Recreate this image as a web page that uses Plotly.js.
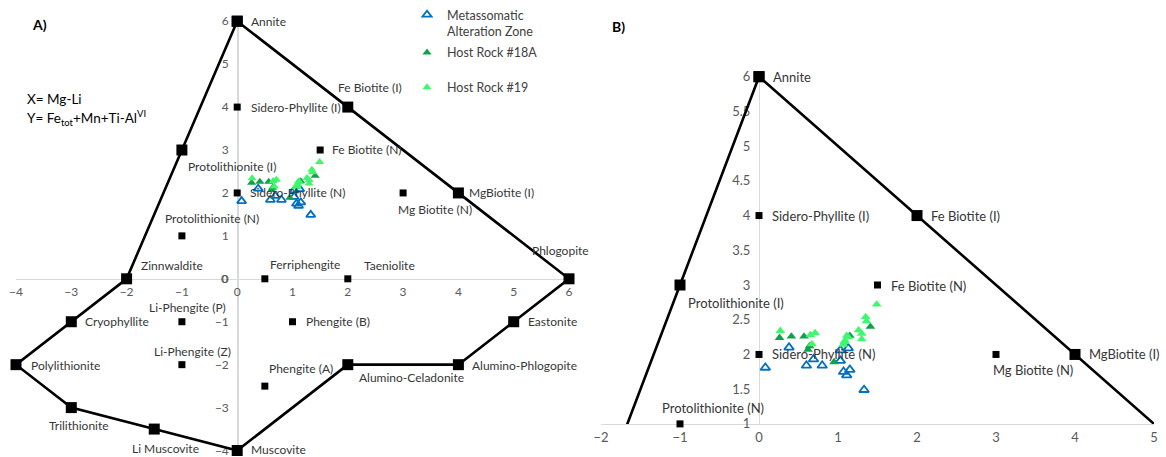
<!DOCTYPE html>
<html><head><meta charset="utf-8">
<script src="https://cdn.plot.ly/plotly-3.0.1.min.js"></script>
<style>html,body{margin:0;padding:0;background:#fff;} #chart{width:1166px;height:457px;}</style>
</head><body><div id="chart"></div>
<script>
// ---- data ----
const outlineNames = ['Annite','Fe Biotite (I)','MgBiotite (I)','Phlogopite','Eastonite','Alumino-Phlogopite','Alumino-Celadonite','Muscovite','Li Muscovite','Trilithionite','Polylithionite','Cryophyllite','Zinnwaldite','Protolithionite (I)','Annite'];
const outlineX = [0, 2, 4, 6, 5, 4, 2, 0, -1.5, -3, -4, -3, -2, -1, 0];
const outlineY = [6, 4, 2, 0, -1, -2, -2, -4, -3.5, -3, -2, -1, 0, 3, 6];

const innerNames = ['Sidero-Phyllite (I)','Fe Biotite (N)','Sidero-Phyllite (N)','Mg Biotite (N)','Protolithionite (N)','Ferriphengite','Taeniolite','Li-Phengite (P)','Phengite (B)','Li-Phengite (Z)','Phengite (A)'];
const innerX = [0, 1.5, 0, 3, -1, 0.5, 2, -1, 1, -1, 0.5];
const innerY = [4, 3, 2, 2, 1, 0, 0, -1, -1, -2, -2.5];

const altX = [0.08, 0.38, 0.60, 0.69, 0.80, 1.03, 1.03, 1.13, 1.07, 1.11, 1.15, 1.33];
const altY = [1.81, 2.10, 1.84, 1.93, 1.84, 1.91, 2.06, 2.09, 1.75, 1.70, 1.78, 1.49];
const host18X = [0.26, 0.41, 0.57, 0.64, 0.62, 0.95, 1.15, 1.41];
const host18Y = [2.24, 2.26, 2.26, 2.12, 2.07, 1.89, 2.27, 2.40];
const host19X = [0.27, 0.65, 0.71, 0.67, 1.07, 1.09, 1.11, 1.13, 1.26, 1.30, 1.30, 1.35, 1.36, 1.49, 1.08];
const host19Y = [2.34, 2.28, 2.31, 2.15, 2.14, 2.20, 2.27, 2.25, 2.35, 2.30, 2.22, 2.54, 2.48, 2.72, 2.18];

const seriesNames = ['Metassomatic<br>Alteration Zone', 'Host Rock #18A', 'Host Rock #19'];

const xTicksA = [-4, -3, -2, -1, 0, 1, 2, 3, 4, 5, 6];
const yTicksA = [-4, -3, -2, -1, 0, 1, 2, 3, 4, 5, 6];
const xTicksB = [-2, -1, 0, 1, 2, 3, 4, 5];
const yTicksB = [1, 1.5, 2, 2.5, 3, 3.5, 4, 4.5, 5, 5.5, 6];

// ---- layout / style ----
const W = 1166, H = 457;
const FONT = 'Lato, "Open Sans", sans-serif';
const LABEL_COLOR = '#363636';
const TICK_COLOR = '#595959';
const rangeA = {x: [-4, 6], y: [-4, 6]};
const rangeB = {x: [-2, 5], y: [1, 6]};
const domA = {x: [16 / W, 569 / W], y: [(H - 450.5) / H, (H - 19.3) / H]};
const domB = {x: [601 / W, 1154 / W], y: [(H - 423.75) / H, (H - 75) / H]};
function posOf(dom, r, v) { return dom[0] + (v - r[0]) / (r[1] - r[0]) * (dom[1] - dom[0]); }

// label offsets [dx, dy] in px (dy positive = down), text left-anchored
const labelA = {
  'Annite': [12, 0], 'Fe Biotite (I)': [-12, -20], 'MgBiotite (I)': [9, 0], 'Phlogopite': [-39, -28],
  'Eastonite': [12, 0], 'Alumino-Phlogopite': [12, 1], 'Alumino-Celadonite': [9, 13], 'Muscovite': [12, -1],
  'Li Muscovite': [-24, 19], 'Trilithionite': [-24, 18], 'Polylithionite': [13, 1], 'Cryophyllite': [12, 0],
  'Zinnwaldite': [12, -13], 'Protolithionite (I)': [4, 16],
  'Sidero-Phyllite (I)': [12, 0], 'Fe Biotite (N)': [10, -1], 'Sidero-Phyllite (N)': [11, 0],
  'Mg Biotite (N)': [-7, 17], 'Protolithionite (N)': [-19, -17], 'Ferriphengite': [3, -14],
  'Taeniolite': [14, -13], 'Li-Phengite (P)': [-35, -14], 'Phengite (B)': [11, 0],
  'Li-Phengite (Z)': [-30, -13], 'Phengite (A)': [2, -18]
};
const labelB = {
  'Annite': [12, 0], 'Sidero-Phyllite (I)': [11, 0], 'Fe Biotite (I)': [12, 0], 'Fe Biotite (N)': [11, 1],
  'MgBiotite (I)': [12, 0], 'Mg Biotite (N)': [-5, 16], 'Protolithionite (I)': [6, 18],
  'Sidero-Phyllite (N)': [11, 0], 'Protolithionite (N)': [-20, -16]
};

const seriesStyle = [
  {symbol: 'triangle-up-open', color: '#0070C0', line: {width: 1.8, color: '#0070C0'}},
  {symbol: 'triangle-up', color: '#10A24A', line: {width: 0}},
  {symbol: 'triangle-up', color: '#3DF86A', line: {width: 0}}
];
const seriesX = [altX, host18X, host19X];
const seriesY = [altY, host18Y, host19Y];

function inRange(x, y, r) { return x >= r.x[0] && x <= r.x[1] && y >= r.y[0] && y <= r.y[1]; }
function filt(names, xs, ys, r) {
  const o = {n: [], x: [], y: []};
  names.forEach((n, i) => { if (inRange(xs[i], ys[i], r)) { o.n.push(n); o.x.push(xs[i]); o.y.push(ys[i]); } });
  return o;
}

const traces = [];
// Panel A
traces.push({x: outlineX, y: outlineY, xaxis: 'x', yaxis: 'y', mode: 'lines+markers', cliponaxis: false,
  line: {color: '#000', width: 2.6}, marker: {symbol: 'square', size: 11, color: '#000'}, showlegend: false, hoverinfo: 'skip'});
traces.push({x: innerX, y: innerY, xaxis: 'x', yaxis: 'y', mode: 'markers', cliponaxis: false,
  marker: {symbol: 'square', size: 7, color: '#000'}, showlegend: false, hoverinfo: 'skip'});
// Panel B
traces.push({x: outlineX, y: outlineY, xaxis: 'x2', yaxis: 'y2', mode: 'lines', cliponaxis: true,
  line: {color: '#000', width: 2.6}, showlegend: false, hoverinfo: 'skip'});
const oB = filt(outlineNames, outlineX, outlineY, rangeB);
const iB = filt(innerNames, innerX, innerY, rangeB);
traces.push({x: oB.x, y: oB.y, xaxis: 'x2', yaxis: 'y2', mode: 'markers', cliponaxis: false,
  marker: {symbol: 'square', size: 11, color: '#000'}, showlegend: false, hoverinfo: 'skip'});
traces.push({x: iB.x, y: iB.y, xaxis: 'x2', yaxis: 'y2', mode: 'markers', cliponaxis: false,
  marker: {symbol: 'square', size: 7, color: '#000'}, showlegend: false, hoverinfo: 'skip'});

const legendIds = ['legend', 'legend2', 'legend3'];
seriesNames.forEach((nm, i) => {
  const st = seriesStyle[i];
  traces.push({x: seriesX[i], y: seriesY[i], xaxis: 'x', yaxis: 'y', mode: 'markers', name: nm,
    legend: legendIds[i], cliponaxis: false,
    marker: {symbol: st.symbol, size: 8, color: st.color, line: st.line}, hoverinfo: 'skip'});
});
seriesNames.forEach((nm, i) => {
  const st = seriesStyle[i];
  traces.push({x: seriesX[i], y: seriesY[i], xaxis: 'x2', yaxis: 'y2', mode: 'markers', name: nm,
    showlegend: false, cliponaxis: false,
    marker: {symbol: st.symbol, size: 8.5, color: st.color, line: st.line}, hoverinfo: 'skip'});
});

const annotations = [];
function addLabels(names, xs, ys, map, xref, yref, size) {
  names.forEach((n, i) => {
    if (!(n in map)) return;
    if (annotations.some(a => a.text === n && a.xref === xref)) return;
    const o = map[n];
    annotations.push({x: xs[i], y: ys[i], xref: xref, yref: yref, text: n, showarrow: false,
      xanchor: 'left', yanchor: 'middle', xshift: o[0], yshift: -o[1],
      font: {family: FONT, size: size, color: LABEL_COLOR}});
  });
}
addLabels(outlineNames, outlineX, outlineY, labelA, 'x', 'y', 12);
addLabels(innerNames, innerX, innerY, labelA, 'x', 'y', 12);
addLabels(oB.n, oB.x, oB.y, labelB, 'x2', 'y2', 13);
addLabels(iB.n, iB.x, iB.y, labelB, 'x2', 'y2', 13);

// Plotly hides the y tick label where the two free axes cross; draw it as a tick-style label
annotations.push({x: 0, y: 0, xref: 'x', yref: 'y', text: String(yTicksA[4]), showarrow: false,
  xanchor: 'right', yanchor: 'middle', xshift: -7, yshift: 0,
  font: {family: FONT, size: 12, color: TICK_COLOR}});

function paperText(text, px, py, size, bold) {
  annotations.push({xref: 'paper', yref: 'paper', x: px / W, y: 1 - py / H, text: bold ? '<b>' + text + '</b>' : text,
    showarrow: false, xanchor: 'left', yanchor: 'middle', font: {family: FONT, size: size, color: '#000'}});
}
paperText('A)', 30, 23, 14, true);
paperText('B)', 610, 25, 14, true);
paperText('X= Mg-Li', 25, 97, 13.5, false);
paperText('Y= Fe<sub>tot</sub>+Mn+Ti-Al<sup>VI</sup>', 25, 117, 13.5, false);

function axisBase(extra) {
  return Object.assign({showgrid: false, zeroline: false, showline: true, linecolor: '#d9d9d9', linewidth: 1.3,
    ticks: '', tickmode: 'array', fixedrange: true, layer: 'below traces', ticklabeloverflow: 'allow',
    tickfont: {family: FONT, size: 12, color: TICK_COLOR}}, extra);
}
function legendAt(px, py) {
  return {x: px / W, y: 1 - py / H, xanchor: 'left', yanchor: 'top', bgcolor: 'rgba(0,0,0,0)', borderwidth: 0,
    valign: 'top', font: {family: FONT, size: 12.5, color: '#404040'}, itemclick: false, itemdoubleclick: false};
}

const layout = {
  width: W, height: H, margin: {l: 0, r: 0, t: 0, b: 0}, paper_bgcolor: '#fff', plot_bgcolor: 'rgba(0,0,0,0)',
  font: {family: FONT},
  xaxis: axisBase({domain: domA.x, range: rangeA.x, tickvals: xTicksA, anchor: 'free',
    position: posOf(domA.y, rangeA.y, 0), ticklabelstandoff: 1}),
  yaxis: axisBase({domain: domA.y, range: rangeA.y, tickvals: yTicksA, anchor: 'free',
    position: posOf(domA.x, rangeA.x, 0), ticklabelstandoff: 6}),
  xaxis2: axisBase({domain: domB.x, range: rangeB.x, tickvals: xTicksB, anchor: 'y2', ticklabelstandoff: 1,
    tickfont: {family: FONT, size: 13, color: TICK_COLOR}}),
  yaxis2: axisBase({domain: domB.y, range: rangeB.y, tickvals: yTicksB, anchor: 'free',
    position: posOf(domB.x, rangeB.x, 0), ticklabelstandoff: 6,
    tickfont: {family: FONT, size: 13, color: TICK_COLOR}}),
  legend: legendAt(407, -2),
  legend2: legendAt(407, 36),
  legend3: legendAt(407, 71),
  annotations: annotations,
  showlegend: true
};

Plotly.newPlot('chart', traces, layout, {staticPlot: true, displayModeBar: false});
</script>
</body></html>
